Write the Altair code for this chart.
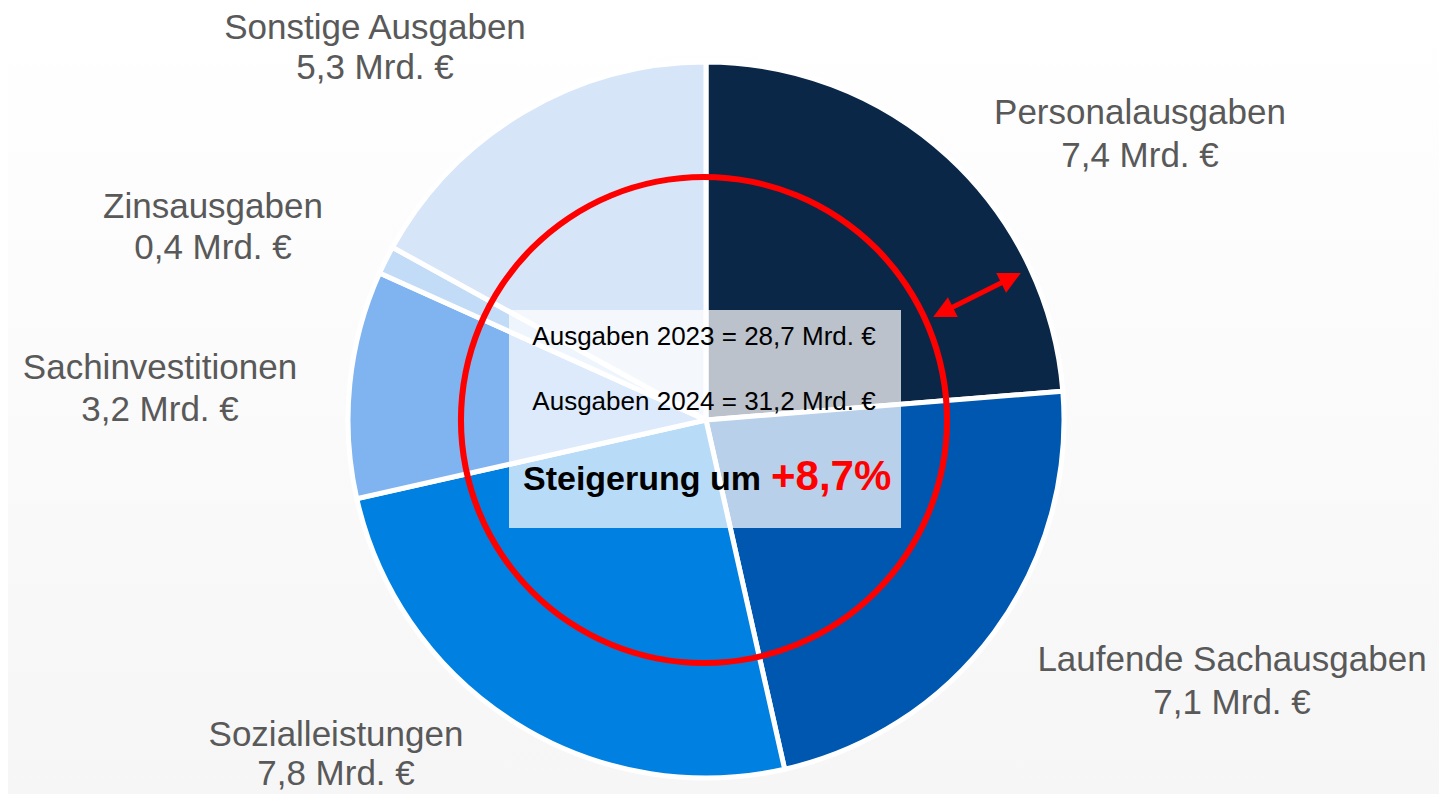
import altair as alt
import pandas as pd

# ---------------- data ----------------
categories = ["Personalausgaben", "Laufende Sachausgaben", "Sozialleistungen",
              "Sachinvestitionen", "Zinsausgaben", "Sonstige Ausgaben"]
values = [7.4, 7.1, 7.8, 3.2, 0.4, 5.3]
colors = ["#0b2748", "#0057b0", "#0080e0", "#80b4f0", "#c2dbf7", "#d6e6f8"]
total_2023 = 28.7
total_2024 = 31.2
growth_pct = 8.7

def de(v):
    return f"{v:.1f}".replace(".", ",")

# ---------------- layout (page pixels) ----------------
W, H = 1431, 786
M = 8
def px(v):
    return v - M

CX, CY, R = 706, 420, 358
# label anchor (center x, baseline of first line, baseline of second line)
label_pos = {
    "Personalausgaben": (1140, 124, 167),
    "Laufende Sachausgaben": (1232, 671, 714),
    "Sozialleistungen": (336, 746, 785),
    "Sachinvestitionen": (160, 379, 421),
    "Zinsausgaben": (213, 218, 259),
    "Sonstige Ausgaben": (375, 39, 79),
}

pie_df = pd.DataFrame({"category": categories, "value": values, "order": list(range(len(categories)))})

lab_rows = []
for c, v in zip(categories, values):
    x, y1, y2 = label_pos[c]
    lab_rows.append({"t": c, "x": px(x), "y": px(y1)})
    lab_rows.append({"t": f"{de(v)} Mrd. €", "x": px(x), "y": px(y2)})
lab_df = pd.DataFrame(lab_rows)

FONT = "Liberation Sans"

background = alt.Chart(pd.DataFrame({"a": [0]})).mark_rect(
    fill=alt.LinearGradient(
        gradient="linear",
        stops=[alt.GradientStop(color="#ffffff", offset=0),
               alt.GradientStop(color="#f6f6f6", offset=1)],
        x1=0, x2=0, y1=0, y2=1,
    )
).encode(x=alt.value(0), x2=alt.value(W), y=alt.value(0), y2=alt.value(H))

pie = alt.Chart(pie_df).mark_arc(radius=R, stroke="white", strokeWidth=5).encode(
    theta=alt.Theta("value:Q", stack=True),
    order=alt.Order("order:Q"),
    color=alt.Color("category:N", scale=alt.Scale(domain=categories, range=colors), legend=None),
    x=alt.value(px(CX)),
    y=alt.value(px(CY)),
)

ring = alt.Chart(pd.DataFrame({"a": [0]})).mark_arc(
    radius=246, radius2=240, theta=0, theta2=6.2832, color="#ff0000"
).encode(x=alt.value(px(CX - 2)), y=alt.value(px(CY)))

box = alt.Chart(pd.DataFrame({"a": [0]})).mark_rect(color="white", opacity=0.72).encode(
    x=alt.value(px(509)), x2=alt.value(px(901)), y=alt.value(px(310)), y2=alt.value(px(528))
)

box_text_df = pd.DataFrame({
    "t": [f"Ausgaben 2023 = {de(total_2023)} Mrd. €", f"Ausgaben 2024 = {de(total_2024)} Mrd. €"],
    "y": [px(345), px(410)],
})
box_text = alt.Chart(box_text_df).mark_text(
    font=FONT, fontSize=26, color="#000000", align="center", baseline="alphabetic"
).encode(text="t:N", x=alt.value(px(704)), y=alt.Y("y:Q", scale=None))

steig = alt.Chart(pd.DataFrame({"t": ["Steigerung um"]})).mark_text(
    font=FONT, fontSize=34, fontWeight="bold", color="#000000", align="right", baseline="alphabetic"
).encode(text="t:N", x=alt.value(px(761)), y=alt.value(px(490)))

pct = alt.Chart(pd.DataFrame({"t": [f"+{de(growth_pct)}%"]})).mark_text(
    font=FONT, fontSize=42, fontWeight="bold", color="#ff0000", align="left", baseline="alphabetic"
).encode(text="t:N", x=alt.value(px(771)), y=alt.value(px(490)))

arrow_line = alt.Chart(pd.DataFrame({"a": [0]})).mark_rule(color="#ff0000", strokeWidth=5).encode(
    x=alt.value(px(945)), y=alt.value(px(311)), x2=alt.value(px(1009)), y2=alt.value(px(279))
)
TRI = "M0,-1L1,1L-1,1Z"
head1 = alt.Chart(pd.DataFrame({"a": [0]})).mark_point(
    shape=TRI, size=484, filled=True, color="#ff0000", opacity=1, angle=63.4, strokeWidth=0
).encode(x=alt.value(px(1011)), y=alt.value(px(278)))
head2 = alt.Chart(pd.DataFrame({"a": [0]})).mark_point(
    shape=TRI, size=484, filled=True, color="#ff0000", opacity=1, angle=243.4, strokeWidth=0
).encode(x=alt.value(px(943)), y=alt.value(px(312)))

labels = alt.Chart(lab_df).mark_text(
    font=FONT, fontSize=35, color="#595959", align="center", baseline="alphabetic"
).encode(text="t:N", x=alt.X("x:Q", scale=None), y=alt.Y("y:Q", scale=None))

chart = alt.layer(
    background, pie, ring, box, box_text, steig, pct, arrow_line, head1, head2, labels
).properties(
    width=W, height=H, padding=0, autosize=alt.AutoSizeParams(type="none"), background="white"
).configure_view(stroke=None)

chart.save("out.html", embed_options={"renderer": "svg", "actions": False})
